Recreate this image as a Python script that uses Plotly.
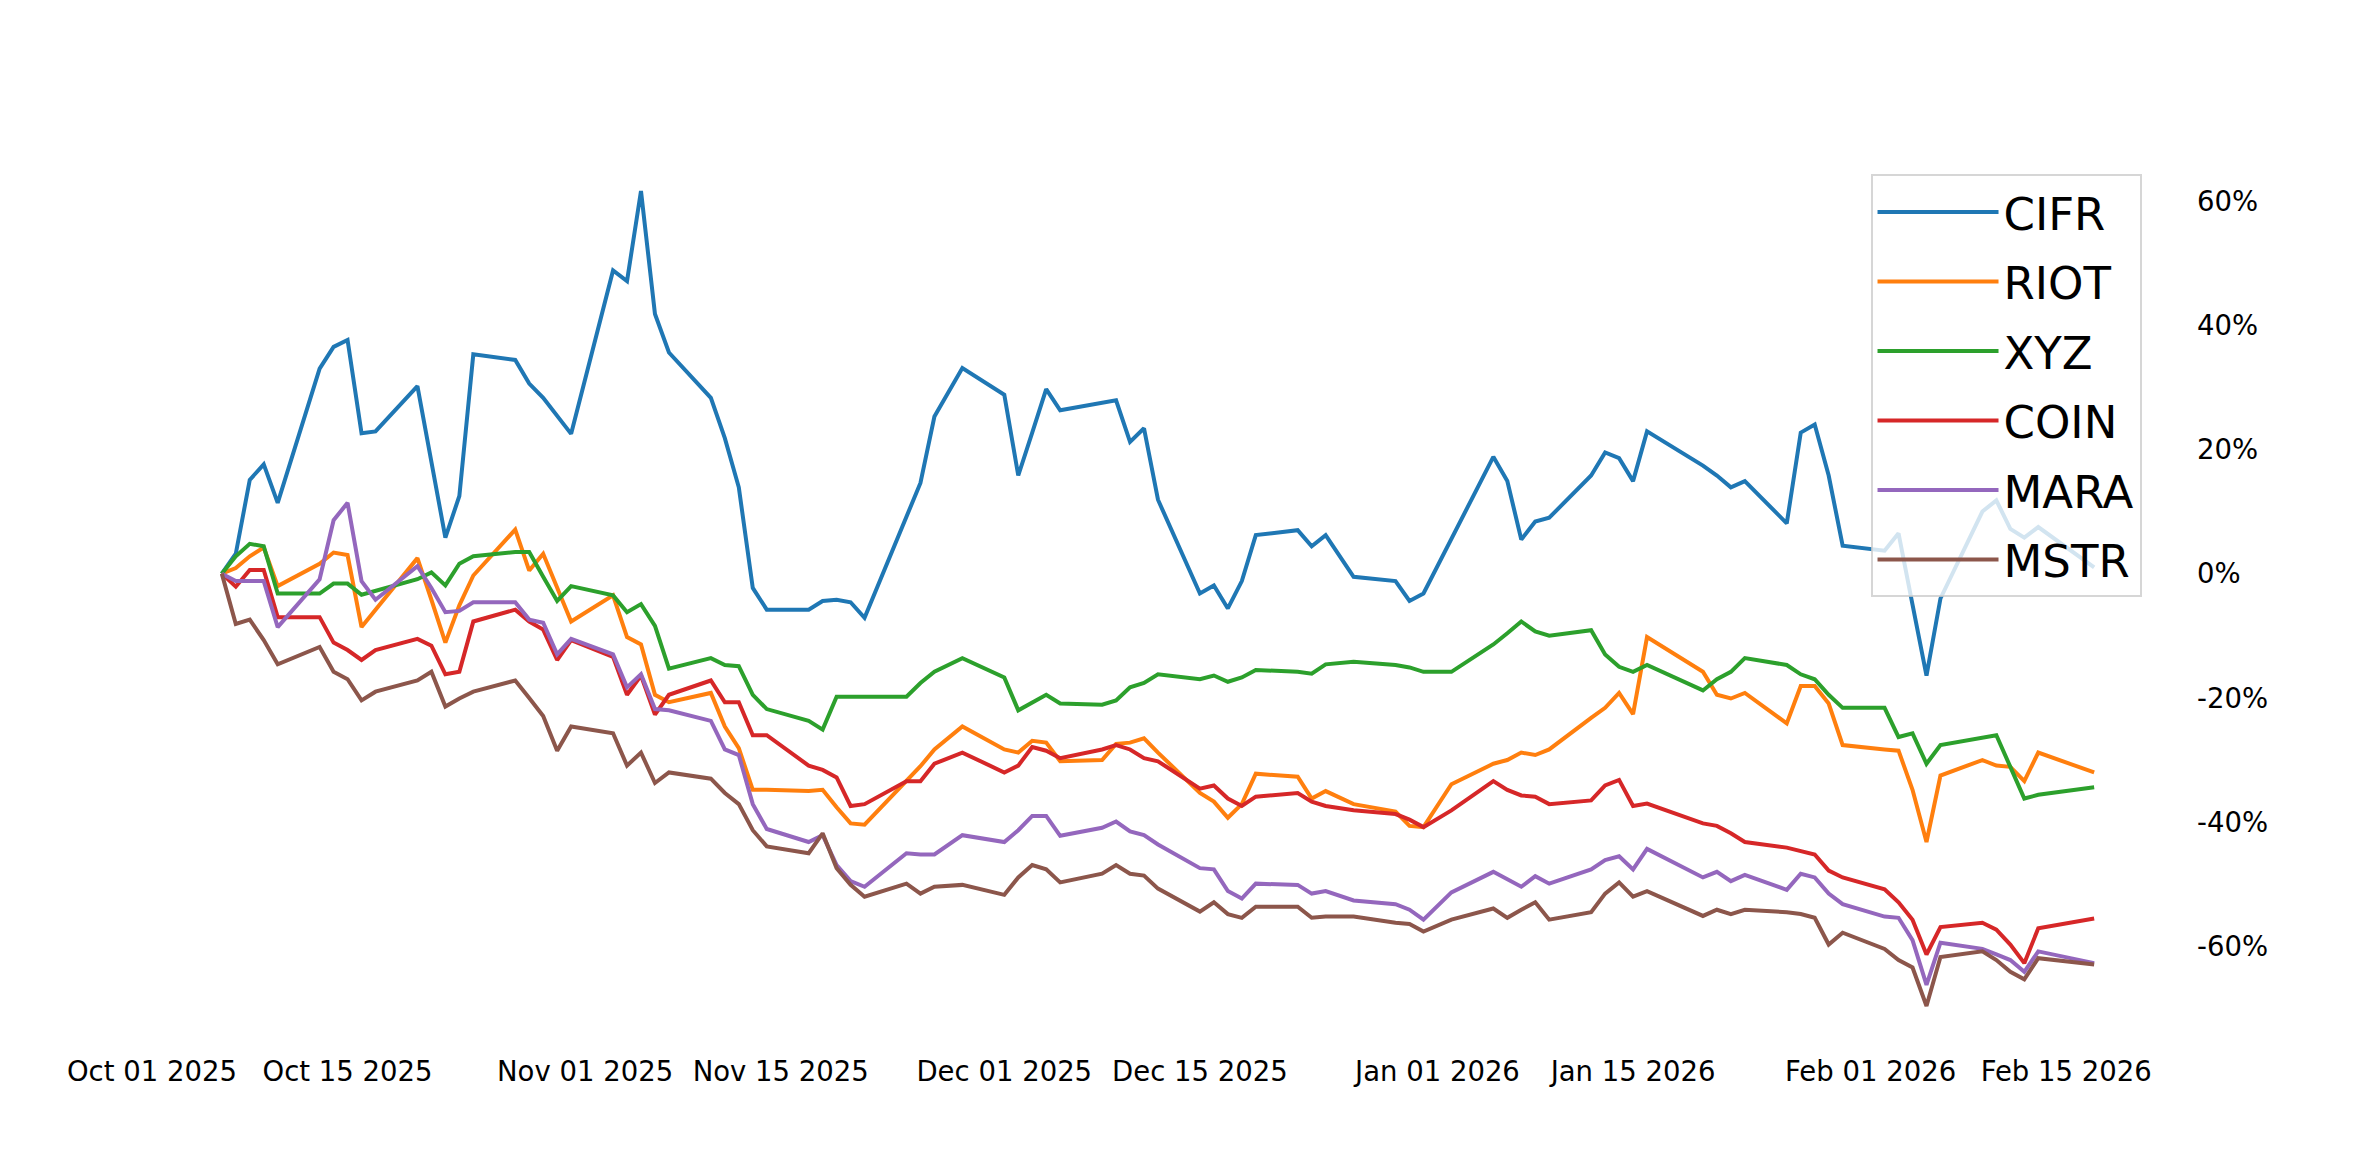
import plotly.graph_objects as go

dates = (
    ["2025-10-%02d" % d for d in [6, 7, 8, 9, 10, 13, 14, 15, 16, 17, 20, 21, 22, 23, 24, 27, 28, 29, 30, 31]]
    + ["2025-11-%02d" % d for d in [3, 4, 5, 6, 7, 10, 11, 12, 13, 14, 17, 18, 19, 20, 21, 24, 25, 26, 28]]
    + ["2025-12-%02d" % d for d in [1, 2, 3, 4, 5, 8, 9, 10, 11, 12, 15, 16, 17, 18, 19, 22, 23, 24, 26, 29, 30, 31]]
    + ["2026-01-%02d" % d for d in [2, 5, 6, 7, 8, 9, 12, 13, 14, 15, 16, 20, 21, 22, 23, 26, 27, 28, 29, 30]]
    + ["2026-02-%02d" % d for d in [2, 3, 4, 5, 6, 9, 10, 11, 12, 13, 17]]
)

CIFR = [0, 3.2, 15.1, 17.6, 11.4, 33.0, 36.5, 37.6, 22.6, 22.9, 30.2, 18.0, 5.8, 12.5, 35.3, 34.4, 30.6, 28.3, 25.3, 22.5,
        48.8, 47.1, 61.6, 41.8, 35.6, 28.3, 21.8, 13.9, -2.3, -5.8, -5.8, -4.4, -4.2, -4.6, -7.1, 9.3, 14.6, 25.3, 33.1,
        28.8, 15.8, 22.7, 29.7, 26.3, 27.4, 27.9, 21.2, 23.4, 11.9, -3.2, -1.9, -5.6, -1.2, 6.2, 7.0, 4.4, 6.2, -0.5, -1.2, -4.4, -3.2,
        5.6, 18.8, 14.9, 5.5, 8.4, 9.0, 15.8, 19.5, 18.6, 14.9, 22.9, 17.4, 15.8, 13.9, 14.9, 8.1, 22.7, 24.0, 15.8, 4.5,
        3.7, 6.5, -5.0, -16.4, -4.0, 10.0, 11.8, 7.2, 5.8, 7.5, 1.0]
RIOT = [0, 0.9, 2.8, 4.2, -2.0, 1.6, 3.4, 3.0, -8.6, -5.8, 2.5, -4.2, -11.1, -5.1, -0.3, 7.1, 0.5, 3.2, -2.2, -7.7,
        -3.5, -10.2, -11.4, -19.5, -20.7, -19.2, -24.6, -28.1, -34.8, -34.8, -35.0, -34.8, -37.6, -40.2, -40.4, -33.5, -31.0, -28.3, -24.6,
        -28.3, -28.8, -26.9, -27.2, -30.2, -30.0, -27.4, -27.2, -26.5, -28.8, -35.3, -36.7, -39.3, -37.1, -32.2, -32.7, -36.2, -35.0, -37.1, -38.3, -40.6, -40.8,
        -33.9, -30.6, -30.0, -28.8, -29.2, -28.3, -23.2, -21.6, -19.2, -22.6, -10.2, -15.8, -19.5, -20.1, -19.2, -24.1, -18.1, -18.1, -20.9, -27.6,
        -28.3, -28.5, -34.8, -43.2, -32.5, -30.0, -30.9, -31.1, -33.4, -28.8, -32.0]
XYZ = [0, 2.8, 4.8, 4.4, -3.2, -3.2, -1.6, -1.6, -3.4, -2.8, -0.9, 0.2, -1.9, 1.6, 2.8, 3.5, 3.5, -0.5, -4.4, -2.0,
       -3.5, -6.2, -4.9, -8.4, -15.3, -13.6, -14.7, -14.9, -19.5, -21.8, -23.7, -25.1, -19.8, -19.8, -19.8, -19.8, -17.6, -15.8, -13.6,
       -16.7, -22.0, -20.7, -19.5, -20.9, -21.1, -20.4, -18.3, -17.6, -16.2, -17.0, -16.4, -17.4, -16.7, -15.5, -15.8, -16.1, -14.6, -14.2, -14.7, -15.1, -15.8,
       -15.8, -11.4, -9.6, -7.7, -9.3, -10.0, -9.1, -13.0, -15.0, -15.8, -14.7, -18.8, -17.0, -15.8, -13.6, -14.7, -16.2, -17.0, -19.5, -21.6,
       -21.6, -26.3, -25.7, -30.6, -27.6, -26.5, -26.0, -31.1, -36.2, -35.6, -34.4]
COIN = [0, -2.1, 0.6, 0.6, -7.0, -7.0, -11.1, -12.3, -13.9, -12.3, -10.5, -11.6, -16.2, -15.8, -7.7, -5.8, -7.7, -9.0, -13.9, -10.7,
        -13.4, -19.5, -16.4, -22.7, -19.5, -17.2, -20.7, -20.7, -26.0, -26.0, -30.9, -31.6, -32.8, -37.4, -37.1, -33.4, -33.4, -30.6, -28.8,
        -32.0, -30.9, -27.9, -28.5, -29.7, -28.3, -27.6, -28.3, -29.7, -30.2, -34.6, -34.1, -36.2, -37.4, -35.9, -35.3, -36.7, -37.4, -38.1, -38.7, -39.6, -40.8,
        -38.1, -33.4, -34.8, -35.7, -35.9, -37.1, -36.5, -34.1, -33.2, -37.4, -37.0, -40.2, -40.6, -41.8, -43.2, -44.1, -44.6, -45.2, -47.8, -48.9,
        -50.8, -52.9, -55.7, -61.3, -56.9, -56.2, -57.3, -59.7, -62.7, -57.1, -55.5]
MARA = [0, -1.2, -1.2, -1.2, -8.6, -0.9, 8.6, 11.4, -1.2, -4.2, 1.2, -2.3, -6.2, -6.0, -4.6, -4.6, -7.4, -7.9, -13.0, -10.5,
        -13.0, -18.3, -16.2, -21.8, -22.0, -23.7, -28.3, -29.2, -37.1, -41.1, -43.2, -42.1, -46.9, -49.5, -50.4, -45.0, -45.2, -45.2, -42.1,
        -43.2, -41.3, -39.0, -39.0, -42.2, -40.9, -39.9, -41.5, -42.1, -43.6, -47.4, -47.6, -51.1, -52.3, -49.9, -50.1, -51.5, -51.1, -52.6, -53.2, -54.1, -55.7,
        -51.3, -48.0, -49.2, -50.4, -48.7, -49.9, -47.6, -46.1, -45.5, -47.6, -44.3, -48.9, -48.0, -49.5, -48.5, -50.9, -48.3, -48.9, -51.5, -53.2,
        -55.2, -55.4, -59.0, -66.2, -59.4, -60.4, -61.3, -62.2, -64.1, -60.8, -62.7]
MSTR = [0, -8.1, -7.4, -10.7, -14.6, -11.8, -15.8, -17.0, -20.4, -19.0, -17.2, -15.8, -21.4, -20.1, -19.0, -17.2, -20.0, -22.9, -28.5, -24.6,
        -25.7, -30.9, -28.8, -33.7, -32.0, -33.0, -35.3, -37.1, -41.3, -43.9, -45.0, -41.8, -47.4, -50.1, -52.0, -49.9, -51.5, -50.4, -50.1,
        -51.7, -48.9, -46.9, -47.6, -49.7, -48.3, -46.9, -48.3, -48.6, -50.7, -54.4, -52.9, -54.8, -55.4, -53.6, -53.6, -55.4, -55.2, -55.2, -56.2, -56.4, -57.6,
        -55.7, -53.9, -55.4, -54.1, -52.9, -55.7, -54.5, -51.5, -49.7, -52.0, -51.1, -55.1, -54.1, -54.8, -54.1, -54.5, -54.8, -55.4, -59.7, -57.8,
        -60.4, -62.2, -63.4, -69.6, -61.7, -60.8, -62.2, -64.1, -65.3, -61.9, -62.9]

series_names = ["CIFR", "RIOT", "XYZ", "COIN", "MARA", "MSTR"]
series_values = [CIFR, RIOT, XYZ, COIN, MARA, MSTR]
colors = ["#1f77b4", "#ff7f0e", "#2ca02c", "#d62728", "#9467bd", "#8c564b"]

x_tick_vals = ["2025-10-01", "2025-10-15", "2025-11-01", "2025-11-15", "2025-12-01",
               "2025-12-15", "2026-01-01", "2026-01-15", "2026-02-01", "2026-02-15"]
x_tick_text = ["Oct 01 2025", "Oct 15 2025", "Nov 01 2025", "Nov 15 2025", "Dec 01 2025",
               "Dec 15 2025", "Jan 01 2026", "Jan 15 2026", "Feb 01 2026", "Feb 15 2026"]
y_tick_vals = [60, 40, 20, 0, -20, -40, -60]
y_tick_text = ["60%", "40%", "20%", "0%", "-20%", "-40%", "-60%"]

fig = go.Figure()
for name, vals, col in zip(series_names, series_values, colors):
    fig.add_trace(go.Scatter(x=dates, y=vals, mode="lines", name=name, legendgroup=name,
                             line=dict(color=col, width=4)))

FONT = "DejaVu Sans"
fig.update_layout(
    width=2364, height=1138, autosize=False,
    paper_bgcolor="white", plot_bgcolor="white",
    margin=dict(l=116, r=194, t=137, b=94, pad=0),
    font=dict(family=FONT, size=28, color="black"),
    showlegend=True,
    legend=dict(
        x=0.8503, y=0.9677, xanchor="left", yanchor="top",
        bgcolor="rgba(255,255,255,0.8)", bordercolor="rgba(204,204,204,0.8)", borderwidth=2,
        font=dict(family=FONT, size=45, color="black"),
        itemwidth=121, tracegroupgap=8, traceorder="grouped",
    ),
    xaxis=dict(
        type="date", range=["2025-09-29", "2026-02-23"],
        tickmode="array", tickvals=x_tick_vals, ticktext=x_tick_text,
        showgrid=False, zeroline=False, showline=False, ticks="",
        tickfont=dict(family=FONT, size=27.5, color="black"),
        ticklabelstandoff=0,
    ),
    yaxis=dict(
        side="right", range=[-77, 69],
        tickmode="array", tickvals=y_tick_vals, ticktext=y_tick_text,
        showgrid=False, zeroline=False, showline=False, ticks="",
        tickfont=dict(family=FONT, size=27.5, color="black"),
        ticklabelstandoff=18,
    ),
)

fig.write_html("out.html")
